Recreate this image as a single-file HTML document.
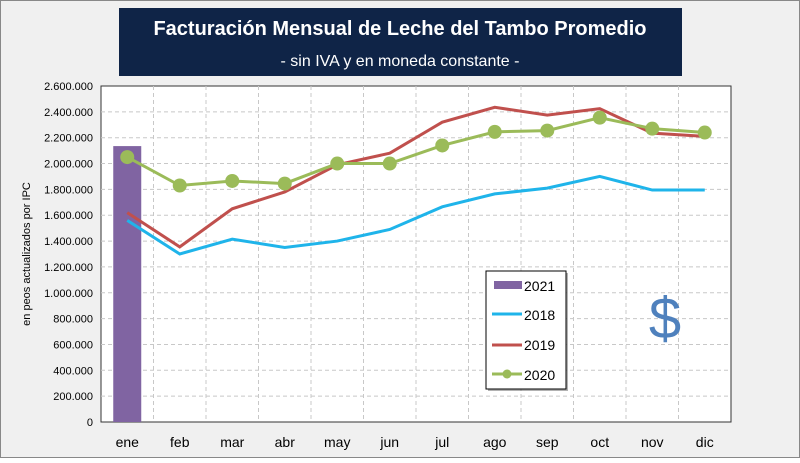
<!DOCTYPE html>
<html><head><meta charset="utf-8"><style>
body{margin:0;width:800px;height:458px;overflow:hidden;background:#fff;font-family:"Liberation Sans",sans-serif}
</style></head><body>
<svg width="800" height="458" xmlns="http://www.w3.org/2000/svg">
<rect x="0.5" y="0.5" width="799" height="457" fill="#f0f0f0" stroke="#888"/>
<rect x="119" y="8" width="563" height="68" fill="#0f2447"/>
<text x="400" y="35" text-anchor="middle" fill="#fff" font-size="20" font-weight="bold">Facturación Mensual de Leche del Tambo Promedio</text>
<text x="400" y="66" text-anchor="middle" fill="#fff" font-size="16">- sin IVA y en moneda constante -</text>
<rect x="101" y="86" width="630" height="336" fill="#fff" stroke="#333"/>
<g id="grid"></g><g id="marks"></g><g id="axes"></g>
<text transform="translate(30,254) rotate(-90)" text-anchor="middle" font-size="11" fill="#000">en peos actualizados por IPC</text>
<text x="665" y="338" text-anchor="middle" font-size="58" fill="#4f81bd">$</text>
<g>
<rect x="488" y="273" width="80" height="118" fill="#666" opacity="0.5"/>
<rect x="486" y="271" width="80" height="118" fill="#fff" stroke="#000"/>
<rect x="494" y="281" width="28" height="8" fill="#8064a2"/>
<text x="524" y="291" font-size="14">2021</text>
<line x1="492" y1="314" x2="522" y2="314" stroke="#1fb4ea" stroke-width="3"/>
<text x="524" y="320" font-size="14">2018</text>
<line x1="492" y1="345" x2="522" y2="345" stroke="#c0504d" stroke-width="3"/>
<text x="524" y="350" font-size="14">2019</text>
<line x1="492" y1="374" x2="522" y2="374" stroke="#9bbb59" stroke-width="3"/>
<circle cx="507" cy="374" r="4.5" fill="#9bbb59"/>
<text x="524" y="380" font-size="14">2020</text>
</g>
</svg>
<script>
const months=["ene","feb","mar","abr","may","jun","jul","ago","sep","oct","nov","dic"];
const s2021=[2135000];
const s2018=[1560000,1300000,1415000,1350000,1400000,1490000,1665000,1765000,1810000,1900000,1795000,1795000];
const s2019=[1620000,1355000,1650000,1780000,1990000,2080000,2320000,2435000,2375000,2425000,2235000,2210000];
const s2020=[2050000,1830000,1865000,1845000,2000000,2000000,2140000,2245000,2255000,2355000,2270000,2240000];
const yTicks=[0,200000,400000,600000,800000,1000000,1200000,1400000,1600000,1800000,2000000,2200000,2400000,2600000];
const NS="http://www.w3.org/2000/svg";
const L=101,R=731,T=86,B=422,YMAX=2600000,bw=(R-L)/months.length;
const x=i=>L+bw*(i+0.5), y=v=>B-(v/YMAX)*(B-T);
function mk(tag,a,p){const e=document.createElementNS(NS,tag);for(const k in a)e.setAttribute(k,a[k]);p.appendChild(e);return e;}
const grid=document.getElementById('grid'),marks=document.getElementById('marks'),axes=document.getElementById('axes');
const fmt=v=>v.toString().replace(/\B(?=(\d{3})+(?!\d))/g,".");
yTicks.forEach(v=>{
 if(v>0&&v<YMAX){const g=mk('line',{x1:L,x2:R,y1:y(v),y2:y(v),stroke:'#c8c8c8','stroke-dasharray':'4,3'},grid);
 
 }
 const t=mk('text',{x:L-8,y:y(v)+4,'text-anchor':'end','font-size':'11',fill:'#000'},axes);t.textContent=fmt(v);
 
 
});
months.forEach((m,i)=>{
 if(i>0){const g=mk('line',{x1:L+bw*i,x2:L+bw*i,y1:T,y2:B,stroke:'#c8c8c8','stroke-dasharray':'4,3'},grid);
 
 }
 const t=mk('text',{x:x(i),y:447,'text-anchor':'middle','font-size':'14',fill:'#000'},axes);t.textContent=m;
 
 
});
s2021.forEach((v,i)=>{const r=mk('rect',{x:x(i)-14,y:y(v),width:28,height:B-y(v),fill:'#8064a2'},marks);
 
 });
function line(d,c,n){const p=mk('polyline',{points:d.map((v,i)=>x(i)+','+y(v)).join(' '),fill:'none',stroke:c,'stroke-width':3},marks);
 
 }
line(s2018,'#1fb4ea','line-2018');
line(s2019,'#c0504d','line-2019');
line(s2020,'#9bbb59','line-2020');
s2020.forEach((v,i)=>{const c=mk('circle',{cx:x(i),cy:y(v),r:7,fill:'#9bbb59'},marks);
 
 });
</script>
</body></html>
